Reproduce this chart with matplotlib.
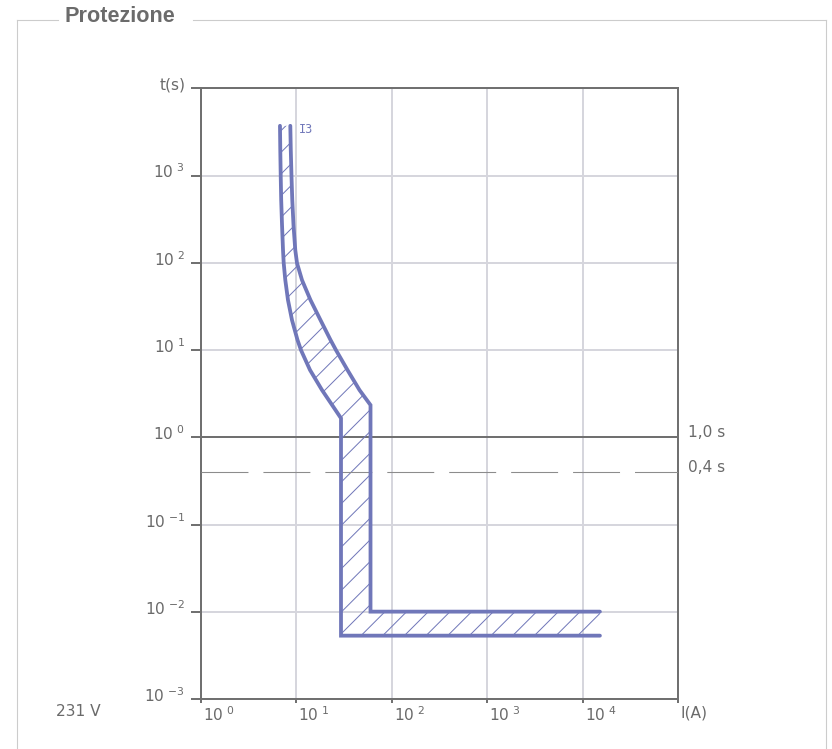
import matplotlib
matplotlib.use('Agg')
import matplotlib.pyplot as plt
import matplotlib.transforms as mtransforms
from matplotlib.lines import Line2D

# Curve I3: lower (left) and upper (right) trip limits
left_current = [6.72, 6.77, 6.84, 6.92, 7.06, 7.23, 7.35, 7.64, 8.15, 8.98, 10.25,
                11.16, 13.87, 18.52, 25.64, 29.28, 29.28, 15100]
left_time = [3717, 1959, 987, 524, 271, 140, 99.5, 63.5, 37.5, 22.1, 13.1,
             10.0, 5.92, 3.49, 2.06, 1.66, 0.00536, 0.00536]
right_current = [8.62, 8.72, 8.87, 9.04, 9.31, 9.72, 10.13, 11.43, 14.03, 17.86, 22.73,
                 25.96, 34.25, 45.76, 59.66, 59.66, 15100]
right_time = [3717, 1959, 987, 524, 271, 140, 99.5, 63.5, 37.5, 22.1, 13.1,
              10.0, 5.92, 3.49, 2.35, 0.0101, 0.0101]

x_ticks = [1, 10, 100, 1000, 10000, 100000]
x_labels = [r'$10\;{}^{0}$', r'$10\;{}^{1}$', r'$10\;{}^{2}$', r'$10\;{}^{3}$', r'$10\;{}^{4}$', 'I(A)']
y_ticks = [1e-3, 1e-2, 1e-1, 1, 10, 100, 1000, 10000]
y_labels = [r'$10\;{}^{-3}$', r'$10\;{}^{-2}$', r'$10\;{}^{-1}$', r'$10\;{}^{0}$',
            r'$10\;{}^{1}$', r'$10\;{}^{2}$', r'$10\;{}^{3}$', 't(s)']

ref_times = [1.0, 0.4]
ref_labels = ['1,0 s', '0,4 s']

curve_color = '#7077b9'
axis_color = '#707070'
text_color = '#6a6a6a'
DPI = 130

plt.rcParams['font.family'] = ['DejaVu Sans']
plt.rcParams['mathtext.default'] = 'regular'
plt.rcParams['hatch.linewidth'] = 0.55
plt.rcParams['lines.scale_dashes'] = False

fig = plt.figure(figsize=(832 / DPI, 749 / DPI), dpi=DPI)
ax = fig.add_axes([201 / 832, 1 - 699.3 / 749, 477.3 / 832, 611 / 749])

ax.set_xscale('log')
ax.set_yscale('log')
ax.set_xlim(1, 1e5)
ax.set_ylim(1e-3, 1e4)
ax.minorticks_off()

ax.grid(True, which='major', color='#d6d6dd', lw=1.1, zorder=0)
ax.set_axisbelow(True)

# reference times
ax.axhline(ref_times[0], color=axis_color, lw=1.1, zorder=1)
ax.axhline(ref_times[1], color='#8c8c8c', lw=0.6, dashes=(26, 8.3), zorder=3)

# hatched band between the two limits
band_x = left_current + right_current[::-1]
band_y = left_time + right_time[::-1]
ax.fill(band_x, band_y, facecolor='none', edgecolor=curve_color, lw=0,
        hatch='//', zorder=2)
for xs, ys in [(left_current, left_time), (right_current, right_time)]:
    ax.plot(xs, ys, color=curve_color, lw=2.1, solid_capstyle='round',
            solid_joinstyle='miter', zorder=4)
ax.text(10.6, 3380, 'I3', color=curve_color, fontsize=6.5,
        family='DejaVu Sans Mono', ha='left', va='center')

# axes styling
for sp in ax.spines.values():
    sp.set_color(axis_color)
    sp.set_linewidth(1.1)
ax.set_xticks(x_ticks)
ax.set_xticklabels(x_labels)
ax.set_yticks(y_ticks)
ax.set_yticklabels(y_labels)
ax.tick_params(axis='y', length=5.5, width=1.1, color=axis_color,
               labelcolor=text_color, labelsize=8.5, pad=3.2)
ax.tick_params(axis='x', length=2.2, width=1.1, color=axis_color,
               labelcolor=text_color, labelsize=8.5, pad=1.2)

up = mtransforms.ScaledTranslation(0, 5 / DPI, fig.dpi_scale_trans)
for lab in ax.get_yticklabels():
    lab.set_transform(lab.get_transform() + up)
right = mtransforms.ScaledTranslation(2 / DPI, 0, fig.dpi_scale_trans)
for lab in ax.get_xticklabels():
    lab.set_horizontalalignment('left')
    lab.set_transform(lab.get_transform() + right)

trans = mtransforms.blended_transform_factory(ax.transAxes, ax.transData) + up
for t, lab in zip(ref_times, ref_labels):
    ax.text(1.0205, t, lab, transform=trans, color=text_color, fontsize=8.5,
            ha='left', va='center')

fig.text(56 / 832, 1 - 712 / 749, '231 V', color=text_color, fontsize=8.5,
         ha='left', va='center')

# fieldset frame with legend
frame_kw = dict(color='#cccccc', lw=0.6, transform=fig.transFigure)
fy = 1 - 20 / 749
fig.add_artist(Line2D([17 / 832, 58 / 832], [fy, fy], **frame_kw))
fig.add_artist(Line2D([193 / 832, 826 / 832], [fy, fy], **frame_kw))
fig.add_artist(Line2D([17 / 832, 17 / 832], [fy, -0.01], **frame_kw))
fig.add_artist(Line2D([826 / 832, 826 / 832], [fy, -0.01], **frame_kw))
fig.text(65 / 832, 1 - 16 / 749, 'Protezione', color='#6b6b6b', fontsize=12,
         fontweight='bold', family='Liberation Sans', ha='left', va='center')

fig.savefig('out.png', dpi=DPI)
